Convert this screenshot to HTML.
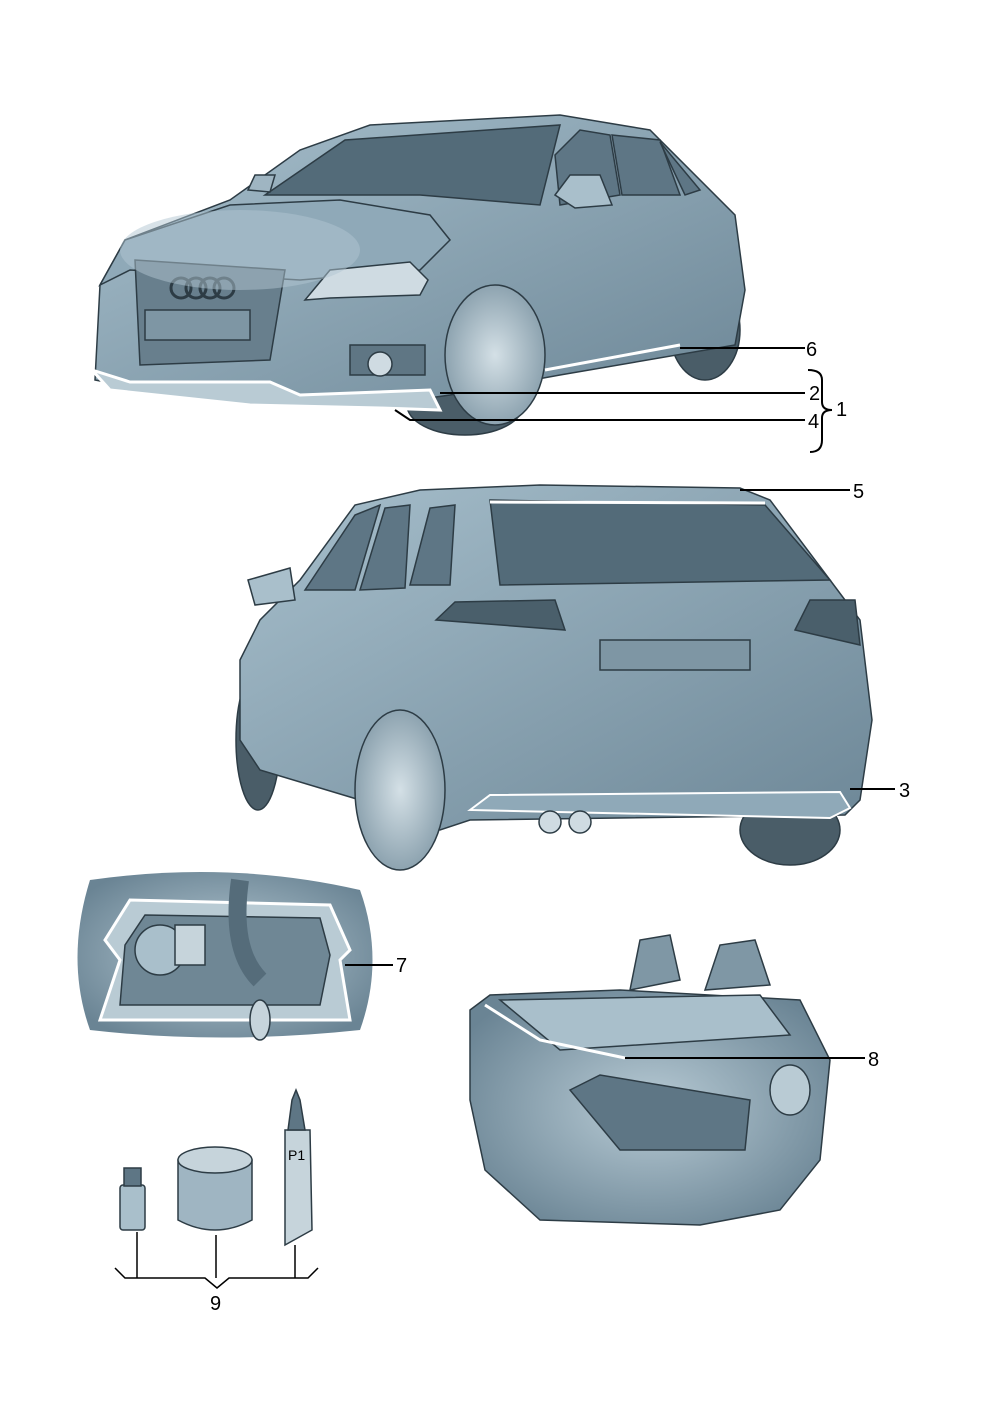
<!DOCTYPE html>
<html><head><style>html,body{margin:0;padding:0;background:#fff}svg{display:block}text{font-family:"Liberation Sans",sans-serif;font-size:20px;fill:#000}</style></head>
<body>
<svg width="992" height="1403" viewBox="0 0 992 1403" xmlns="http://www.w3.org/2000/svg">
<defs>
<linearGradient id="b" x1="0" y1="0" x2="1" y2="1"><stop offset="0" stop-color="#a7bfcc"/><stop offset="1" stop-color="#6d8797"/></linearGradient>
<radialGradient id="w" cx=".5" cy=".5" r=".6"><stop offset="0" stop-color="#d4e0e6"/><stop offset="1" stop-color="#7f97a5"/></radialGradient>
<radialGradient id="bg" cx=".5" cy=".5" r=".6"><stop offset="0" stop-color="#b8cbd5"/><stop offset="1" stop-color="#6a8494"/></radialGradient>
</defs>
<g stroke="#2d3c45" stroke-width="1.5">
<!-- Car 1 -->
<ellipse cx="465" cy="405" rx="58" ry="30" fill="#4a5d68"/>
<ellipse cx="705" cy="330" rx="35" ry="50" fill="#4a5d68"/>
<path d="M95,380 L100,285 L125,240 L230,200 L300,150 L370,125 L560,115 L650,130 L735,215 L745,290 L735,345 L560,375 L450,395 L380,405 L200,400 L95,380 Z" fill="url(#b)"/>
<path d="M265,195 L345,140 L560,125 L540,205 L420,195 Z" fill="#536b79"/>
<path d="M555,155 L580,130 L610,135 L620,195 L560,205 Z" fill="#5e7685"/>
<path d="M612,135 L660,140 L680,195 L622,195 Z" fill="#5e7685"/>
<path d="M660,142 L700,190 L685,195 Z" fill="#5e7685"/>
<path d="M100,285 L125,240 L230,205 L340,200 L430,215 L450,240 L420,270 L300,280 L130,270 Z" fill="#8fa9b8"/>
<path d="M135,260 L285,270 L270,360 L140,365 Z" fill="#687f8d"/>
<rect x="145" y="310" width="105" height="30" fill="#7e96a4"/>
<g fill="none" stroke-width="3"><circle cx="181" cy="288" r="10"/><circle cx="196" cy="288" r="10"/><circle cx="210" cy="288" r="10"/><circle cx="224" cy="288" r="10"/></g>
<path d="M305,300 L330,270 L410,262 L428,280 L420,295 L330,298 Z" fill="#cfdbe2"/>
<rect x="350" y="345" width="75" height="30" fill="#5f7684"/>
<circle cx="380" cy="364" r="12" fill="#cfdbe2"/>
<ellipse cx="495" cy="355" rx="50" ry="70" fill="url(#w)"/>
<path d="M248,190 L255,175 L275,175 L270,192 Z" fill="#9fb5c2"/>
<path d="M555,195 L570,175 L600,175 L612,205 L575,208 Z" fill="#a9bfcb"/>
<path d="M92,370 L130,382 L270,382 L300,395 L430,390 L440,410 L380,408 L250,405 L110,390 Z" fill="#b9cbd4" stroke="#fff" stroke-width="3"/>
<path d="M545,370 L680,345" fill="none" stroke="#fff" stroke-width="3"/>
<ellipse cx="240" cy="250" rx="120" ry="40" fill="#b2c6d1" stroke="none" opacity=".5"/>
</g>
<g stroke="#000" stroke-width="2" fill="none">
<path d="M680,348 H805"/><path d="M440,393 H805"/><path d="M395,410 L410,420 H805"/>
<path d="M808,370 Q822,370 822,380 V402 Q822,410 832,410 Q822,410 822,418 V440 Q822,452 810,452"/>
</g>
<text x="806" y="356">6</text><text x="809" y="400">2</text><text x="808" y="428">4</text><text x="836" y="416">1</text>
<!-- Car 2 -->
<g stroke="#2d3c45" stroke-width="1.5">
<ellipse cx="258" cy="740" rx="22" ry="70" fill="#4a5d68"/>
<ellipse cx="790" cy="830" rx="50" ry="35" fill="#4a5d68"/>
<path d="M240,660 L260,620 L300,580 L355,505 L420,490 L540,485 L740,488 L770,500 L830,580 L860,620 L872,720 L860,800 L845,815 L470,820 L440,830 L360,800 L260,770 L240,740 Z" fill="url(#b)"/>
<path d="M490,500 L765,505 L830,580 L500,585 Z" fill="#536b79"/>
<path d="M305,590 L355,515 L380,505 L355,590 Z" fill="#5e7685"/>
<path d="M360,590 L385,508 L410,505 L405,588 Z" fill="#5e7685"/>
<path d="M410,585 L430,508 L455,505 L450,585 Z" fill="#5e7685"/>
<path d="M436,620 L455,602 L555,600 L565,630 Z" fill="#4a5f6b"/>
<path d="M795,630 L810,600 L855,600 L860,645 Z" fill="#4a5f6b"/>
<rect x="600" y="640" width="150" height="30" fill="#7e96a4"/>
<path d="M248,580 L290,568 L295,600 L255,605 Z" fill="#a9bfcb"/>
<ellipse cx="400" cy="790" rx="45" ry="80" fill="url(#w)"/>
<path d="M470,810 L490,795 L840,792 L850,808 L830,818 Z" fill="#8fa9b8" stroke="#fff" stroke-width="2"/>
<circle cx="550" cy="822" r="11" fill="#cfdbe2"/><circle cx="580" cy="822" r="11" fill="#cfdbe2"/>
<path d="M490,502 L765,503" fill="none" stroke="#fff" stroke-width="3"/>
</g>
<g stroke="#000" stroke-width="2" fill="none"><path d="M740,490 H850"/><path d="M850,789 H895"/></g>
<text x="853" y="498">5</text><text x="899" y="797">3</text>
<!-- Fuel door -->
<g stroke="#2d3c45" stroke-width="1.5">
<path d="M90,880 Q230,860 360,890 Q385,960 360,1030 Q220,1045 90,1030 Q65,960 90,880 Z" fill="url(#bg)" stroke="none"/>
<path d="M105,940 L130,900 L330,905 L350,950 L340,960 L350,1020 L100,1020 L120,960 Z" fill="#b9cbd4" stroke="#fff" stroke-width="3"/>
<path d="M125,945 L145,915 L320,918 L330,955 L320,1005 L120,1005 Z" fill="#6f8795"/>
<circle cx="160" cy="950" r="25" fill="#a9bfcb"/>
<rect x="175" y="925" width="30" height="40" fill="#c6d4db"/>
<path d="M240,880 Q230,950 260,980" fill="none" stroke="#556c7a" stroke-width="18"/>
<ellipse cx="260" cy="1020" rx="10" ry="20" fill="#c6d4db"/>
</g>
<path d="M345,965 H393" stroke="#000" stroke-width="2"/><text x="396" y="972">7</text>
<!-- Convertible -->
<g stroke="#2d3c45" stroke-width="1.5">
<path d="M470,1010 L490,995 L620,990 L800,1000 L830,1060 L820,1160 L780,1210 L700,1225 L540,1220 L485,1170 L470,1100 Z" fill="url(#bg)"/>
<path d="M630,990 L640,940 L670,935 L680,980 Z" fill="#7f97a5"/>
<path d="M705,990 L720,945 L755,940 L770,985 Z" fill="#7f97a5"/>
<path d="M500,1000 L760,995 L790,1035 L560,1050 Z" fill="#a9bfcb"/>
<path d="M485,1005 L540,1040 L625,1058" fill="none" stroke="#fff" stroke-width="3"/>
<path d="M570,1090 L600,1075 L750,1100 L745,1150 L620,1150 Z" fill="#5e7685"/>
<ellipse cx="790" cy="1090" rx="20" ry="25" fill="#b9cbd4"/>
</g>
<path d="M625,1058 H865" stroke="#000" stroke-width="2"/><text x="868" y="1066">8</text>
<!-- Items 9 -->
<g stroke="#2d3c45" stroke-width="1.5">
<rect x="120" y="1185" width="25" height="45" rx="3" fill="#a9bfcb"/>
<rect x="124" y="1168" width="17" height="18" fill="#5e7685"/>
<path d="M178,1160 V1220 Q215,1240 252,1220 V1160 Z" fill="#9fb5c2"/>
<ellipse cx="215" cy="1160" rx="37" ry="13" fill="#c6d4db"/>
<path d="M285,1130 L310,1130 L312,1230 L285,1245 Z" fill="#c6d4db"/>
<path d="M288,1130 L292,1100 L296,1090 L300,1100 L305,1130 Z" fill="#5e7685"/>
</g>
<text x="288" y="1160" style="font-size:14px">P1</text>
<g stroke="#000" stroke-width="1.5" fill="none">
<path d="M137,1232 V1278"/><path d="M216,1235 V1278"/><path d="M295,1245 V1278"/>
<path d="M115,1268 L125,1278 H205 L217,1288 L229,1278 H308 L318,1268"/>
</g>
<text x="210" y="1310">9</text>
</svg>
</body></html>
